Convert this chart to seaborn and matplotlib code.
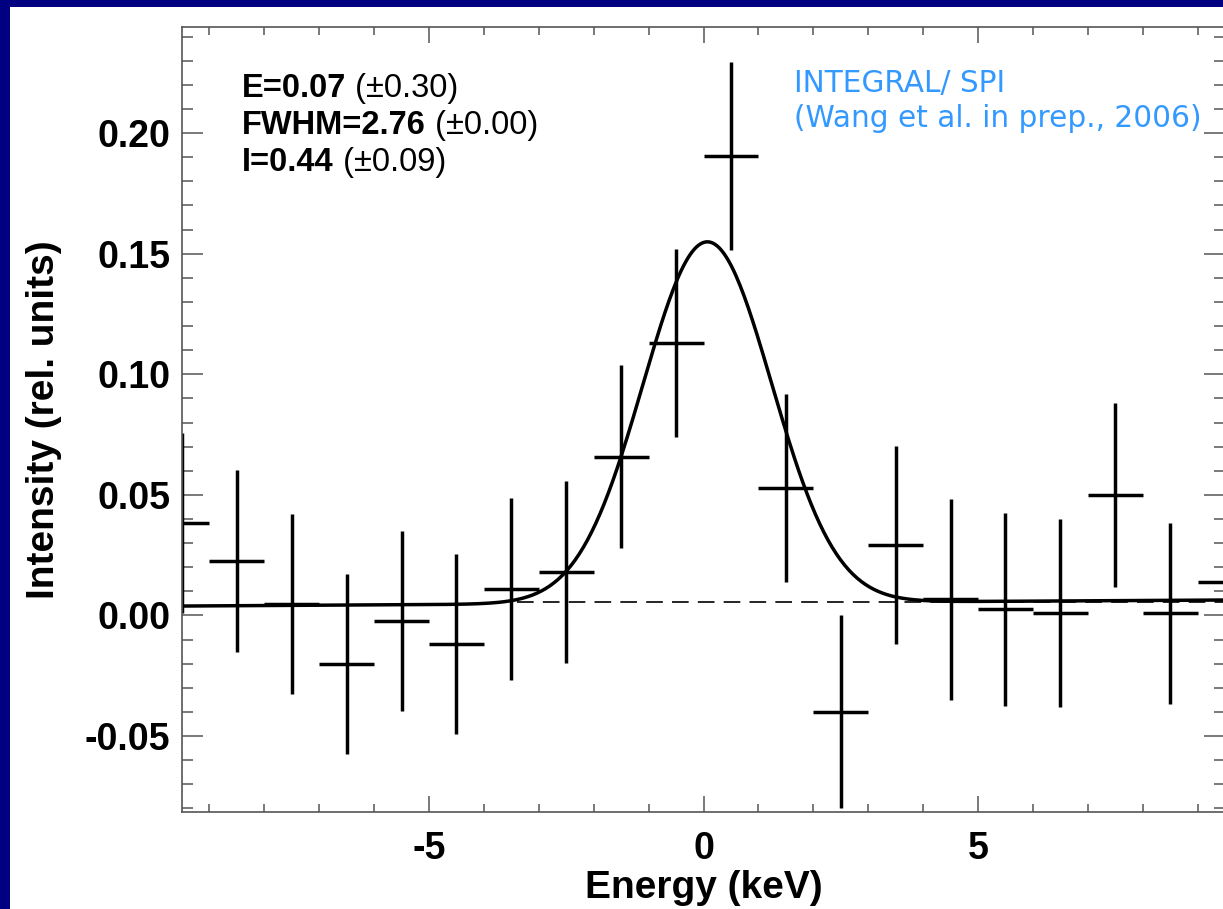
import numpy as np
import pandas as pd
import matplotlib
matplotlib.use("Agg")
import matplotlib.pyplot as plt
import seaborn as sns
from matplotlib.ticker import MultipleLocator, FormatStrFormatter
from matplotlib.patches import Rectangle

# binned SPI spectrum, 1 keV bins
energy = [-9.5, -8.5, -7.5, -6.5, -5.5, -4.5, -3.5, -2.5, -1.5, -0.5,
          0.5, 1.5, 2.5, 3.5, 4.5, 5.5, 6.5, 7.5, 8.5, 9.5]
intensity = [0.0384, 0.0226, 0.0046, -0.0201, -0.0022, -0.0119, 0.0109, 0.0179, 0.0658, 0.1128,
             0.1905, 0.0530, -0.0399, 0.0292, 0.0067, 0.0025, 0.0009, 0.0499, 0.0009, 0.0137]
intensity_err = [0.0372, 0.0377, 0.0373, 0.0373, 0.0373, 0.0372, 0.0376, 0.0378, 0.0380, 0.0390,
                 0.0390, 0.0390, 0.0400, 0.0410, 0.0416, 0.0400, 0.0390, 0.0380, 0.0375, 0.0380]
bin_half = 0.5

# fitted gaussian line + linear continuum
fit_E = 0.07
fit_fwhm = 2.76
fit_I = 0.44
cont_edges_x = [-9.5, 9.5]
cont_edges_y = [0.0039, 0.0064]
cont_dash_x = [-3.4, 9.5]
cont_dash_y = [0.0057, 0.0057]

fit_text = [("E=0.07", " (\u00b10.30)"),
            ("FWHM=2.76", " (\u00b10.00)"),
            ("I=0.44", " (\u00b10.09)")]
source_text = ["INTEGRAL/ SPI", "(Wang et al. in prep., 2006)"]

sns.set_theme(style="ticks")
plt.rcParams["font.family"] = ["Liberation Sans", "DejaVu Sans"]
plt.rcParams["font.weight"] = "bold"
plt.rcParams["axes.labelweight"] = "bold"
plt.rcParams["text.color"] = "black"
plt.rcParams["axes.labelcolor"] = "black"

fig = plt.figure(figsize=(12.23, 9.09), dpi=100, facecolor="#000080")
fig.patches.append(Rectangle((10 / 1223, 0), 1, (909 - 7) / 909, transform=fig.transFigure,
                             facecolor="white", edgecolor="none", zorder=-10))
ax = fig.add_axes([182 / 1223, (909 - 812) / 909, 1043 / 1223, 785 / 909])
ax.set_facecolor("white")

# model curve
xm = np.linspace(cont_edges_x[0], cont_edges_x[1], 500)
sigma = fit_fwhm / (2 * np.sqrt(2 * np.log(2)))
ym = np.interp(xm, cont_edges_x, cont_edges_y) + \
    fit_I / (sigma * np.sqrt(2 * np.pi)) * np.exp(-(xm - fit_E) ** 2 / (2 * sigma ** 2))
model = pd.DataFrame({"energy": xm, "intensity": ym})
sns.lineplot(data=model, x="energy", y="intensity", color="black", lw=2.5, ax=ax)

ax.plot(cont_dash_x, cont_dash_y, color="black", lw=1.2, linestyle=(0, (10, 5.5)))

ax.errorbar(energy, intensity, xerr=bin_half, yerr=intensity_err, fmt="none",
            ecolor="black", elinewidth=2.5, capsize=0)

ax.set_xlim(-9.5, 9.5)
ax.set_ylim(-0.0815, 0.2440)

ax.xaxis.set_major_locator(MultipleLocator(5))
ax.xaxis.set_minor_locator(MultipleLocator(1))
ax.yaxis.set_major_locator(MultipleLocator(0.05))
ax.yaxis.set_minor_locator(MultipleLocator(0.01))
ax.xaxis.set_major_formatter(FormatStrFormatter("%d"))
ax.yaxis.set_major_formatter(FormatStrFormatter("%.2f"))

ax.tick_params(axis="both", which="both", direction="in", top=True, right=True,
               color="#555555", width=1.1, labelsize=27, labelcolor="black")
ax.tick_params(axis="x", which="major", length=11.5, pad=13.5)
ax.tick_params(axis="x", which="minor", length=5.8)
ax.tick_params(axis="y", which="major", length=15, pad=8.6)
ax.tick_params(axis="y", which="minor", length=7.9)
for s in ax.spines.values():
    s.set_color("#555555")
    s.set_linewidth(1.2)

ax.set_xlabel("Energy (keV)", fontsize=28)
ax.set_ylabel("Intensity (rel. units)", fontsize=28)
ax.xaxis.set_label_coords(0.5, -0.074)
ax.yaxis.set_label_coords(-0.1155, 0.5)

# fit results, bold value + plain error
renderer = fig.canvas.get_renderer()
x0 = 0.0576
for (b, r), yb in zip(fit_text, [0.9108, 0.8637, 0.8166]):
    t = ax.text(x0, yb, b, transform=ax.transAxes, fontsize=23.5, fontweight="bold",
                ha="left", va="baseline")
    w = t.get_window_extent(renderer).width
    ax.annotate(r, xy=(x0, yb), xycoords="axes fraction", xytext=(w * 72 / fig.dpi, 0),
                textcoords="offset points", fontsize=23.5, fontweight="normal",
                ha="left", va="baseline")

for txt, yb in zip(source_text, [0.9172, 0.8726]):
    ax.text(0.5864, yb, txt, transform=ax.transAxes, fontsize=21.3, color="#3399ff",
            fontweight="normal", family=["DejaVu Sans"], ha="left", va="baseline")

fig.savefig("out.png", dpi=100, facecolor=fig.get_facecolor())
